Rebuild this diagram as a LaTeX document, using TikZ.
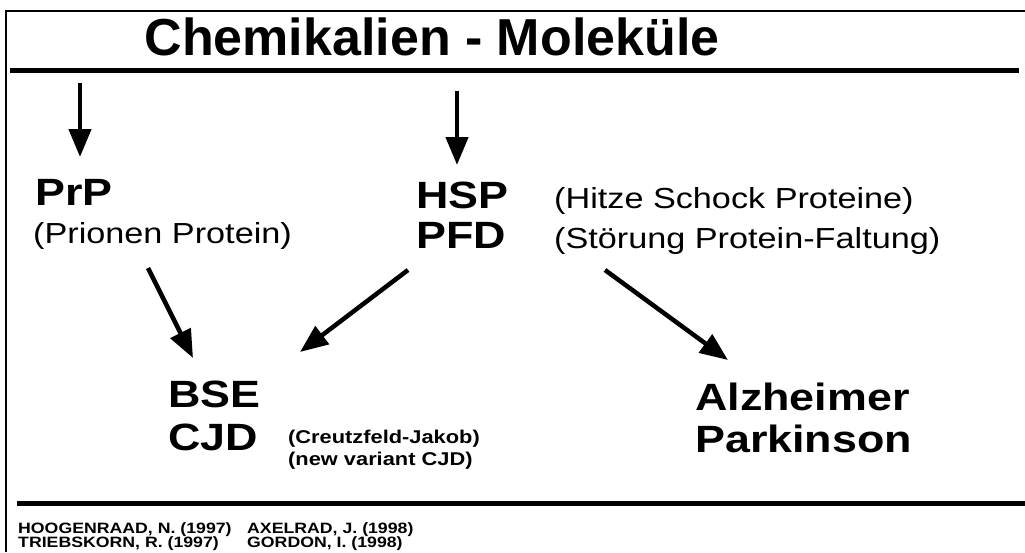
\documentclass[tikz,border=0pt]{standalone}
\usepackage{fontspec}
\setmainfont[FakeStretch=1.18]{Liberation Sans}
\newfontfamily\titelschrift{Liberation Sans}
\usetikzlibrary{arrows.meta}
\tikzset{
  titel/.style={font=\titelschrift\fontsize{52}{56}\selectfont\bfseries, anchor=base, inner sep=0pt},
  gross/.style={font=\fontsize{38}{42}\selectfont\bfseries, anchor=base west, inner sep=0pt},
  mittel/.style={font=\fontsize{29}{34}\selectfont, anchor=base west, inner sep=0pt},
  klein/.style={font=\fontsize{18.5}{22}\selectfont\bfseries, anchor=base west, inner sep=0pt},
  quelle/.style={font=\fontsize{15}{17}\selectfont\bfseries, anchor=base west, inner sep=0pt},
  pfeil/.style={line width=4.5pt, -{Triangle[length=28pt, width=22pt]}}
}
\begin{document}
\begin{tikzpicture}[x=1pt, y=-1pt]
            \useasboundingbox (0,0) rectangle (1025,552);
            %rahmen und linien
            \draw[line width=2pt] (6,552) -- (6,11) -- (1025,11);
            \draw[line width=5pt] (10,70) -- (1019,70);
            \draw[line width=5pt] (17,503) -- (1025,503);
            %texte
            \node[titel] (titel) at (432,55) {Chemikalien - Molek\"ule};
            \node[gross] (prp) at (35,205) {PrP};
            \node[mittel] (prpname) at (33,243) {(Prionen Protein)};
            \node[gross] (hsp) at (416,208) {HSP};
            \node[gross] (pfd) at (416,248) {PFD};
            \node[mittel] (hspname) at (554,208) {(Hitze Schock Proteine)};
            \node[mittel] (pfdname) at (554,248) {(St\"orung Protein-Faltung)};
            \node[gross] (bse) at (168,407) {BSE};
            \node[gross] (cjd) at (168,450) {CJD};
            \node[klein] (cjdname) at (288,443) {(Creutzfeld-Jakob)};
            \node[klein] (nvcjd) at (288,465) {(new variant CJD)};
            \node[gross] (alz) at (695,410) {Alzheimer};
            \node[gross] (park) at (695,452) {Parkinson};
            \node[quelle] (q1) at (18,533) {HOOGENRAAD, N. (1997)};
            \node[quelle] (q2) at (18,547) {TRIEBSKORN, R. (1997)};
            \node[quelle] (q3) at (247,533) {AXELRAD, J. (1998)};
            \node[quelle] (q4) at (247,547) {GORDON, I. (1998)};
            %pfeile
            \coordinate (a1) at (80,83);
            \coordinate (b1) at (80,157);
            \coordinate (a2) at (457,91);
            \coordinate (b2) at (457,165);
            \coordinate (a3) at (148,268);
            \coordinate (b3) at (193,358);
            \coordinate (a4) at (408,270);
            \coordinate (b4) at (300,352);
            \coordinate (a5) at (605,270);
            \coordinate (b5) at (728,360);
            \draw[pfeil] (a1) -- (b1);
            \draw[pfeil] (a2) -- (b2);
            \draw[pfeil] (a3) -- (b3);
            \draw[pfeil] (a4) -- (b4);
            \draw[pfeil] (a5) -- (b5);
\end{tikzpicture}
\end{document}
